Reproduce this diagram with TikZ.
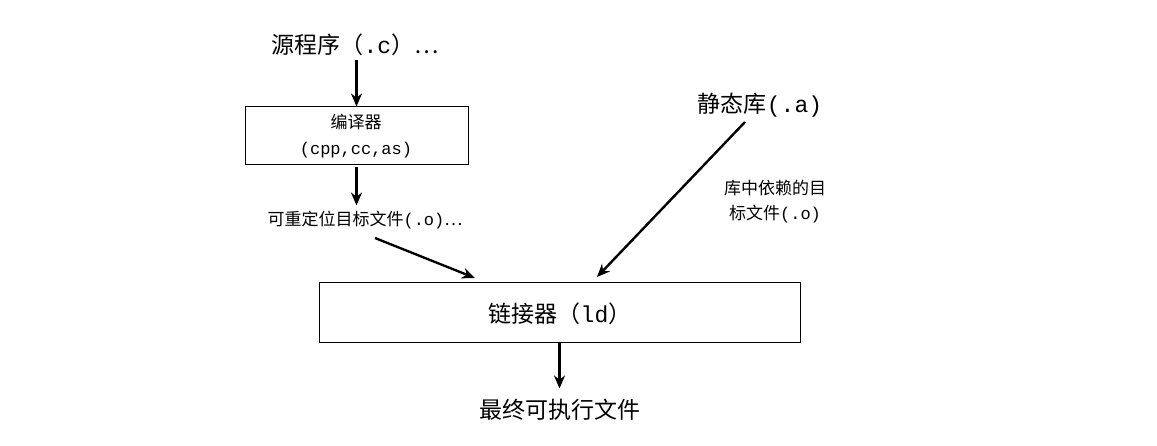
\documentclass[tikz,border=0pt]{standalone}
\usepackage{fontspec}
\newfontfamily\cjk{Noto Sans CJK SC}
\newfontfamily\mono{Liberation Mono}
\usetikzlibrary{arrows.meta}
\tikzset{
  big/.style={font=\cjk\fontsize{23}{27}\selectfont, inner sep=0pt},
  small/.style={font=\cjk\fontsize{17}{25}\selectfont, inner sep=0pt, align=center},
  box/.style={draw, line width=1pt},
  arr/.style={-{Stealth[length=13pt,width=11pt]}, line width=2.4pt}
}
\begin{document}
\begin{tikzpicture}[x=1pt,y=-1pt]
\useasboundingbox (0,0) rectangle (1157,446);
\node[big] (src) at (355,45) {源程序（{\mono .c}）…};
\node[box, minimum width=223pt, minimum height=58pt, inner sep=0pt] (cc) at (356.5,136) {};
\node[small] (cct) at (356,122) {编译器};
\node[small] (ccs) at (356,150) {\mono (cpp,cc,as)};
\node[small] (obj) at (365,220) {可重定位目标文件{\mono (.o)}…};
\node[big] (lib) at (760,105) {静态库{\mono (.a)}};
\node[small] (dep) at (775,202) {库中依赖的目\\标文件{\mono (.o)}};
\node[box, minimum width=481pt, minimum height=60pt, inner sep=0pt] (ld) at (559.5,313) {};
\node[big] (ldt) at (560,314) {链接器（{\mono ld}）};
\node[big] (exe) at (560,410) {最终可执行文件};
\coordinate (o1) at (375,238);
\coordinate (l1) at (745,122);
\draw[arr] (src.south -| cc.north) ++(0,4) -- (cc.north);
\draw[arr] (cc.south) ++(0,2) -- ++(0,38);
\draw[arr] (o1) -- (475,278);
\draw[arr] (l1) -- (597,277);
\draw[arr] (ld.south) -- ++(0,45);
\end{tikzpicture}
\end{document}
